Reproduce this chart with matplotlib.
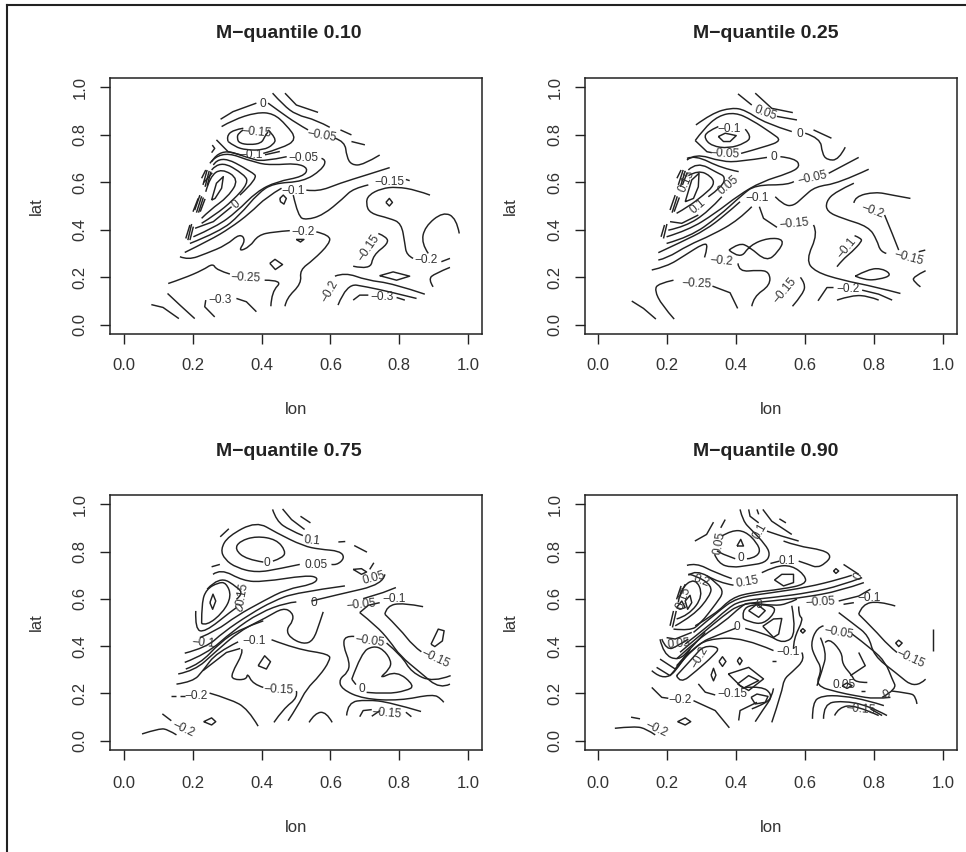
import matplotlib
matplotlib.use("Agg")
import matplotlib.pyplot as plt
from matplotlib.lines import Line2D
from matplotlib.path import Path
from matplotlib.patches import PathPatch

plt.rcParams['font.family'] = ['Liberation Sans', 'DejaVu Sans']

TITLES = ["M\u2212quantile 0.10", "M\u2212quantile 0.25", "M\u2212quantile 0.75", "M\u2212quantile 0.90"]
TICKS = [0.0, 0.2, 0.4, 0.6, 0.8, 1.0]
TICK_LABELS = ["0.0", "0.2", "0.4", "0.6", "0.8", "1.0"]

# ---- contour lines, as (lon, lat) vertices ----
Q10_LINES = [
 [(.468,.976),(.501,.926),(.564,.895)],
 [(.432,.976),(.463,.926),(.501,.884),(.559,.863),(.598,.832)],
 [(.281,.866),(.317,.898),(.385,.934)],
 [(.419,.934),(.453,.898),(.501,.849),(.535,.821)],
 [(.613,.786),(.642,.772),(.647,.708),(.661,.673),(.695,.673),(.743,.715)],
 [(.629,.821),(.661,.80)],
 [(.661,.772),(.70,.758)],
 [(.284,.835),(.317,.863),(.385,.895),(.434,.891),(.472,.842),(.503,.781),(.458,.743),(.405,.722)],
 [(.303,.772),(.298,.793),(.317,.821),(.347,.828)],
 [(.419,.821),(.443,.786),(.434,.758),(.405,.736),(.356,.736),(.322,.75),(.303,.772)],
 [(.347,.821),(.332,.807),(.329,.786),(.335,.765),(.366,.758),(.40,.765),(.409,.793),(.419,.814)],
 [(.269,.779),(.303,.729),(.342,.715)],
 [(.257,.757),(.264,.743),(.255,.725)],
 [(.255,.525),(.269,.596),(.289,.624),(.284,.575),(.265,.532),(.255,.525)],
 [(.226,.448),(.25,.483),(.303,.539),(.335,.613),(.284,.659),(.25,.624),(.238,.56)],
 [(.226,.427),(.265,.462),(.318,.525),(.361,.596),(.352,.631),(.279,.694),(.255,.652)],
 [(.207,.406),(.26,.434),(.313,.497)],
 [(.337,.546),(.39,.617),(.371,.645),(.279,.716),(.26,.673)],
 [(.202,.37),(.269,.413),(.328,.476),(.386,.561),(.444,.603),(.521,.624),(.536,.659),(.502,.68),(.434,.673),(.386,.68),(.279,.737),(.25,.68)],
 [(.192,.342),(.279,.392),(.337,.462),(.39,.554),(.434,.596),(.521,.603),(.574,.652),(.589,.694),(.574,.701)],
 [(.473,.708),(.405,.687),(.366,.701),(.279,.744),(.255,.687)],
 [(.41,.716),(.453,.73)],
 [(.177,.304),(.25,.356),(.308,.406),(.366,.469),(.415,.539),(.458,.575)],
 [(.53,.567),(.564,.56),(.627,.596),(.705,.631),(.772,.662)],
 [(.163,.286),(.187,.272),(.24,.30),(.298,.335),(.337,.384),(.354,.356),(.332,.307),(.366,.328),(.39,.377),(.434,.391),(.482,.396)],
 [(.559,.391),(.598,.377),(.598,.342),(.55,.272),(.511,.23),(.516,.173),(.472,.11),(.468,.077)],
 [(.492,.546),(.506,.455),(.53,.441),(.579,.462),(.637,.532),(.666,.574),(.71,.589)],
 [(.819,.612),(.83,.607)],
 [(.889,.546),(.85,.567),(.792,.581),(.748,.574),(.71,.546),(.703,.511),(.714,.469),(.772,.448),(.806,.427),(.816,.342),(.821,.293),(.84,.279)],
 [(.922,.265),(.947,.279)],
 [(.761,.515),(.771,.532),(.78,.515),(.771,.50),(.761,.515)],
 [(.974,.384),(.966,.448),(.927,.476),(.874,.413),(.864,.342),(.884,.30)],
 [(.947,.241),(.903,.215),(.884,.191),(.898,.159)],
 [(.743,.206),(.782,.222),(.83,.204),(.792,.187),(.743,.206)],
 [(.613,.204),(.642,.22),(.705,.187),(.782,.173),(.874,.128)],
 [(.622,.082),(.647,.173),(.705,.159),(.772,.138),(.85,.11)],
 [(.666,.103),(.685,.124),(.71,.124)],
 [(.792,.114),(.816,.103)],
 [(.739,.384),(.763,.37),(.768,.342),(.724,.293),(.716,.23),(.666,.246)],
 [(.129,.173),(.172,.194),(.23,.23),(.259,.258),(.269,.23),(.308,.213)],
 [(.409,.187),(.463,.187),(.429,.138),(.427,.077)],
 [(.08,.084),(.114,.072),(.16,.025)],
 [(.127,.131),(.163,.082),(.206,.025)],
 [(.264,.032),(.235,.075),(.238,.103)],
 [(.327,.11),(.356,.096),(.385,.054)],
 [(.424,.258),(.439,.275),(.461,.253),(.44,.232),(.424,.258)],
 [(.501,.359),(.523,.359),(.513,.348),(.501,.359)],
 [(.453,.532),(.463,.546),(.472,.532),(.465,.508),(.455,.518),(.453,.532)],
 [(.23,.589),(.242,.652)], [(.236,.581),(.248,.648)], [(.242,.585),(.253,.645)], [(.226,.617),(.238,.652)], [(.233,.6),(.257,.64)],
 [(.206,.483),(.221,.546)], [(.211,.472),(.226,.541)], [(.217,.472),(.231,.536)], [(.201,.476),(.216,.532)], [(.222,.476),(.236,.53)],
 [(.18,.363),(.192,.42)], [(.186,.356),(.197,.424)], [(.192,.356),(.202,.413)],
]
Q10_LABEL_TEXT = ["0","\u22120.15","\u22120.05","\u22120.1","\u22120.05","\u22120.1","\u22120.15","0","\u22120.2","\u22120.15","\u22120.2","\u22120.25","\u22120.2","\u22120.3","\u22120.3"]
Q10_LABEL_LON = [.405,.385,.574,.371,.521,.492,.772,.325,.521,.71,.879,.354,.598,.281,.751]
Q10_LABEL_LAT = [.929,.81,.796,.715,.701,.565,.603,.504,.391,.321,.272,.199,.138,.103,.117]
Q10_LABEL_ROT = [0,-5,-10,0,0,0,0,40,0,55,0,-3,60,0,0]

Q25_LINES = [
 [(.455,.976),(.503,.912),(.564,.894)],
 [(.405,.973),(.445,.926)],
 [(.518,.878),(.576,.863)],
 [(.283,.842),(.329,.891),(.387,.915),(.426,.905),(.484,.849),(.561,.814)],
 [(.624,.821),(.676,.786)],
 [(.60,.807),(.644,.786),(.649,.722),(.663,.694),(.697,.694),(.716,.748)],
 [(.281,.776),(.305,.824),(.348,.881),(.397,.895),(.445,.863),(.503,.807),(.532,.776),(.484,.75),(.414,.722)],
 [(.281,.776),(.315,.729),(.329,.725)],
 [(.348,.835),(.315,.814),(.307,.786),(.329,.753),(.378,.743),(.426,.765),(.445,.793),(.426,.824)],
 [(.348,.793),(.368,.807),(.40,.797),(.382,.772),(.363,.772),(.348,.793)],
 [(.252,.518),(.271,.61),(.292,.638),(.29,.581),(.276,.532),(.252,.518)],
 [(.227,.469),(.261,.497),(.305,.546),(.337,.589),(.329,.624),(.29,.652),(.261,.628)],
 [(.208,.434),(.242,.427),(.29,.462)],
 [(.319,.539),(.36,.582),(.368,.624),(.348,.638),(.286,.687),(.261,.652)],
 [(.203,.398),(.252,.413),(.319,.476),(.358,.539)],
 [(.407,.645),(.358,.659),(.281,.715),(.257,.701)],
 [(.198,.37),(.261,.398),(.339,.469),(.407,.546),(.474,.603),(.552,.638),(.586,.666),(.571,.701),(.528,.708)],
 [(.489,.705),(.411,.687),(.358,.687),(.281,.722),(.257,.694)],
 [(.198,.342),(.266,.37),(.348,.455),(.416,.546),(.455,.589),(.552,.589),(.567,.603)],
 [(.668,.638),(.755,.705)],
 [(.174,.303),(.242,.349),(.31,.398),(.368,.462),(.411,.518)],
 [(.174,.272),(.198,.279),(.261,.335),(.329,.377),(.407,.441),(.445,.497)],
 [(.155,.23),(.198,.244),(.252,.293),(.305,.342),(.319,.335),(.308,.283)],
 [(.467,.497),(.479,.448),(.518,.41)],
 [(.624,.42),(.637,.384),(.602,.272),(.629,.222),(.707,.187),(.803,.159),(.876,.131)],
 [(.513,.539),(.537,.504),(.566,.50),(.595,.539),(.629,.582),(.697,.596),(.784,.655)],
 [(.741,.513),(.744,.54),(.803,.56),(.852,.546),(.905,.532)],
 [(.741,.596),(.687,.56),(.66,.518),(.663,.476),(.707,.448),(.784,.413),(.808,.356),(.818,.307),(.835,.30)],
 [(.83,.462),(.852,.384),(.871,.314)],
 [(.929,.307),(.948,.314)],
 [(.692,.244),(.707,.272),(.736,.307),(.763,.349),(.763,.363),(.743,.375)],
 [(.949,.227),(.912,.201),(.915,.18),(.934,.159)],
 [(.745,.204),(.784,.234),(.823,.237),(.852,.208),(.813,.19),(.774,.187),(.745,.204)],
 [(.637,.10),(.663,.156),(.682,.156)],
 [(.765,.145),(.813,.128),(.852,.103)],
 [(.692,.103),(.736,.124),(.784,.12),(.813,.103)],
 [(.563,.077),(.595,.131),(.60,.173),(.586,.199)],
 [(.445,.077),(.45,.117),(.499,.166),(.496,.222),(.465,.23),(.407,.222),(.405,.258)],
 [(.379,.314),(.408,.345),(.438,.328),(.488,.265),(.522,.307),(.54,.359),(.493,.366),(.44,.335),(.411,.275),(.379,.314)],
 [(.097,.099),(.131,.068),(.167,.023)],
 [(.22,.023),(.184,.082),(.163,.145),(.174,.173),(.218,.187)],
 [(.331,.162),(.382,.134),(.404,.068)],
 [(.232,.589),(.246,.652)], [(.238,.581),(.252,.648)], [(.244,.589),(.258,.642)], [(.228,.617),(.24,.652)],
 [(.208,.483),(.223,.546)], [(.214,.472),(.229,.541)], [(.22,.476),(.235,.536)],
 [(.182,.37),(.192,.42)], [(.189,.363),(.199,.424)],
]
Q25_LABEL_TEXT = ["0.05","0","\u22120.1","\u22120.05","0","\u22120.05","\u22120.1","\u22120.15","\u22120.2","\u22120.1","\u22120.15","\u22120.2","\u22120.25","\u22120.15","\u22120.2","0.05","0.1","0.15"]
Q25_LABEL_LON = [.484,.584,.378,.365,.508,.62,.46,.569,.794,.721,.90,.358,.286,.54,.723,.378,.288,.256]
Q25_LABEL_LAT = [.891,.804,.824,.722,.705,.617,.532,.424,.48,.321,.279,.268,.173,.145,.149,.589,.50,.603]
Q25_LABEL_ROT = [-20,0,0,-3,0,12,0,5,-20,50,-15,-5,-3,50,0,40,40,65]

Q75_LINES = [
 [(.432,.979),(.443,.93),(.482,.891),(.52,.868)],
 [(.461,.981),(.487,.936),(.525,.894)],
 [(.513,.95),(.542,.922)],
 [(.623,.841),(.643,.843)],
 [(.669,.826),(.706,.798)],
 [(.28,.863),(.305,.897)],
 [(.405,.756),(.356,.767),(.322,.81),(.337,.845),(.385,.866),(.443,.852),(.47,.803),(.462,.774),(.433,.76)],
 [(.511,.746),(.453,.728),(.385,.711),(.327,.732),(.293,.767),(.281,.81),(.303,.866),(.385,.929),(.443,.88),(.521,.824),(.569,.81),(.627,.803),(.642,.774),(.618,.742),(.603,.746)],
 [(.25,.584),(.259,.62),(.267,.591),(.258,.556),(.25,.584)],
 [(.226,.496),(.24,.486),(.288,.542),(.313,.612),(.297,.669),(.274,.669),(.24,.641),(.226,.584),(.226,.496)],
 [(.209,.549),(.207,.472),(.235,.458),(.313,.549),(.327,.563)],
 [(.242,.641),(.277,.697),(.332,.648),(.345,.62),(.327,.598)],
 [(.259,.704),(.281,.728),(.347,.676),(.405,.672),(.53,.70),(.566,.69),(.55,.662),(.472,.641),(.405,.591),(.327,.528),(.269,.465),(.221,.436)],
 [(.255,.736),(.279,.746)],
 [(.177,.37),(.24,.394),(.288,.458),(.366,.535),(.434,.591),(.501,.627),(.642,.655)],
 [(.177,.331),(.24,.366),(.317,.465),(.395,.542),(.472,.584),(.501,.587)],
 [(.545,.591),(.627,.62),(.753,.662),(.758,.704)],
 [(.158,.282),(.206,.296),(.264,.373),(.337,.465),(.414,.521),(.463,.563),(.49,.542),(.492,.507),(.472,.472),(.482,.436),(.521,.408),(.55,.422),(.569,.50),(.579,.545)],
 [(.18,.303),(.221,.324),(.279,.415),(.337,.472),(.405,.507)],
 [(.153,.239),(.201,.249),(.23,.296),(.269,.373),(.332,.418)],
 [(.429,.427),(.501,.387),(.598,.366),(.598,.338),(.569,.275),(.53,.218),(.506,.148),(.477,.084)],
 [(.342,.387),(.347,.373),(.312,.282),(.317,.258),(.356,.258),(.359,.286),(.375,.239),(.405,.225)],
 [(.501,.21),(.506,.183),(.463,.134),(.436,.077)],
 [(.23,.296),(.298,.373),(.338,.39)],
 [(.695,.601),(.753,.627),(.79,.648)],
 [(.685,.542),(.71,.573),(.743,.584)],
 [(.758,.535),(.763,.57),(.811,.584),(.869,.567)],
 [(.758,.535),(.802,.472),(.84,.401),(.864,.376)],
 [(.685,.542),(.733,.486),(.772,.422),(.802,.359),(.86,.289),(.918,.218),(.947,.239)],
 [(.669,.441),(.642,.444),(.637,.401),(.656,.331),(.651,.289),(.625,.26),(.632,.218),(.695,.176),(.802,.169),(.898,.197),(.922,.176),(.929,.162)],
 [(.763,.413),(.807,.359),(.835,.289),(.898,.246),(.949,.275)],
 [(.662,.26),(.69,.373),(.724,.401),(.753,.387),(.777,.338),(.772,.303),(.739,.26),(.792,.296),(.845,.232),(.821,.211),(.763,.197),(.705,.204)],
 [(.662,.26),(.674,.237)],
 [(.647,.106),(.65,.162),(.705,.173),(.773,.162),(.863,.123)],
 [(.685,.101),(.695,.127),(.72,.131)],
 [(.819,.12),(.835,.101)],
 [(.538,.077),(.555,.117),(.588,.122),(.605,.077)],
 [(.72,.103),(.744,.127)],
 [(.249,.201),(.308,.176),(.361,.134),(.39,.061)],
 [(.136,.19),(.151,.19)], [(.162,.19),(.177,.19)],
 [(.053,.028),(.104,.052),(.129,.046),(.153,.024)],
 [(.112,.113),(.138,.084)],
 [(.232,.08),(.255,.096),(.267,.08),(.255,.066),(.232,.08)],
 [(.39,.317),(.409,.359),(.426,.334),(.414,.303),(.39,.317)],
 [(.892,.408),(.913,.472),(.93,.465),(.925,.422),(.903,.398),(.892,.408)],
 [(.666,.725),(.69,.728),(.705,.714),(.69,.704),(.666,.725)],
 [(.714,.725),(.726,.753)],
]
Q75_LABEL_TEXT = ["0.1","0","0.05","0.05","0.15","0","0","\u22120.05","\u22120.1","\u22120.1","\u22120.1","\u22120.05","\u22120.15","\u22120.15","0","\u22120.15","\u22120.2","\u22120.2"]
Q75_LABEL_LON = [.547,.414,.559,.726,.344,.337,.553,.69,.786,.23,.378,.714,.903,.448,.69,.763,.211,.172]
Q75_LABEL_LAT = [.847,.75,.742,.686,.62,.559,.581,.577,.598,.415,.422,.422,.345,.214,.218,.117,.19,.049]
Q75_LABEL_ROT = [-5,0,0,15,80,40,0,5,0,-5,0,-8,-25,-3,0,-5,0,-25]

Q90_LINES = [
 [(.28,.845),(.314,.873),(.334,.925)],
 [(.355,.901),(.368,.936)],
 [(.411,.979),(.419,.93),(.445,.891),(.484,.831),(.499,.789),(.484,.753),(.436,.742),(.387,.732),(.348,.75),(.337,.789)],
 [(.358,.866),(.387,.891),(.426,.887),(.46,.838),(.471,.796),(.445,.77),(.431,.77)],
 [(.397,.77),(.363,.789),(.344,.803)],
 [(.402,.824),(.413,.852),(.421,.824),(.402,.824)],
 [(.436,.979),(.44,.95),(.465,.922)],
 [(.489,.887),(.532,.866),(.581,.845)],
 [(.46,.979),(.465,.958)],
 [(.477,.979),(.503,.929),(.561,.873)],
 [(.525,.939),(.544,.922)],
 [(.537,.845),(.576,.824),(.653,.807),(.676,.781),(.658,.75),(.634,.732),(.61,.746),(.581,.76)],
 [(.257,.742),(.283,.753),(.339,.711),(.387,.686)],
 [(.474,.711),(.513,.739),(.561,.742),(.60,.699),(.602,.662),(.532,.641),(.445,.627),(.387,.605),(.339,.535),(.281,.486)],
 [(.511,.68),(.532,.704),(.566,.704),(.566,.669),(.537,.655),(.511,.68)],
 [(.261,.70),(.283,.725),(.349,.669),(.392,.658)],
 [(.252,.591),(.266,.615),(.271,.584),(.259,.556),(.252,.591)],
 [(.227,.563),(.242,.591),(.252,.563),(.237,.556),(.227,.563)],
 [(.227,.515),(.261,.529),(.305,.613),(.281,.691),(.237,.641),(.232,.585)],
 [(.223,.486),(.276,.529),(.324,.613),(.329,.656),(.285,.698),(.261,.705)],
 [(.218,.472),(.266,.465),(.295,.493),(.344,.585),(.363,.627),(.348,.663),(.315,.698)],
 [(.218,.549),(.208,.486)], [(.226,.549),(.215,.479)], [(.24,.655),(.227,.598)], [(.252,.662),(.237,.612)],
 [(.276,.458),(.344,.543),(.402,.606),(.498,.625),(.605,.649),(.702,.684),(.735,.70)],
 [(.252,.409),(.315,.479),(.373,.557),(.411,.592),(.508,.606),(.615,.627),(.702,.656),(.765,.69)],
 [(.237,.374),(.305,.458),(.363,.529),(.411,.578),(.508,.592),(.595,.606),(.702,.634),(.77,.669)],
 [(.227,.346),(.295,.437),(.363,.5),(.416,.571),(.436,.585),(.508,.571),(.547,.578),(.576,.599)],
 [(.697,.591),(.755,.612),(.789,.641)],
 [(.436,.55),(.46,.578),(.484,.55),(.465,.522),(.436,.55)],
 [(.421,.515),(.416,.55),(.445,.578),(.508,.571),(.513,.543),(.479,.493),(.44,.501),(.421,.515)],
 [(.477,.484),(.508,.515),(.532,.517),(.523,.451),(.508,.437),(.477,.484)],
 [(.426,.475),(.489,.451),(.537,.409),(.576,.451),(.561,.571)],
 [(.227,.317),(.285,.409),(.353,.451),(.397,.475)],
 [(.237,.331),(.276,.388),(.315,.43),(.421,.437),(.508,.381)],
 [(.59,.373),(.6,.345),(.561,.289),(.538,.26),(.532,.204),(.503,.077)],
 [(.455,.08),(.479,.134),(.503,.183),(.508,.221)],
 [(.407,.085),(.411,.127),(.46,.162)],
 [(.155,.225),(.184,.183),(.203,.179)],
 [(.276,.169),(.339,.127),(.38,.054)],
 [(.048,.052),(.106,.061),(.14,.049),(.165,.024)],
 [(.095,.099),(.121,.092)],
 [(.23,.08),(.252,.096),(.268,.08),(.252,.066),(.23,.08)],
 [(.227,.275),(.276,.353),(.305,.402),(.353,.395),(.334,.36),(.285,.296),(.237,.24),(.227,.275)],
 [(.184,.43),(.198,.381),(.232,.402),(.261,.43)],
 [(.179,.429),(.189,.366),(.232,.338),(.266,.387),(.31,.458)],
 [(.198,.436),(.223,.43),(.271,.458)],
 [(.169,.31),(.208,.275),(.261,.366)],
 [(.155,.296),(.194,.246),(.247,.338),(.266,.387)],
 [(.179,.345),(.223,.303),(.266,.387)],
 [(.29,.24),(.31,.205),(.339,.193)],
 [(.35,.335),(.36,.355),(.37,.335),(.36,.314),(.35,.335)],
 [(.403,.338),(.41,.352),(.417,.338),(.41,.321),(.403,.338)],
 [(.327,.277),(.334,.306),(.341,.277),(.334,.253),(.327,.277)],
 [(.377,.282),(.436,.31),(.479,.261),(.436,.212),(.411,.233),(.377,.282)],
 [(.404,.24),(.436,.275),(.465,.254),(.421,.222),(.404,.24)],
 [(.443,.183),(.46,.197),(.492,.187),(.484,.162),(.455,.155),(.443,.183)],
 [(.426,.225),(.474,.23),(.503,.197),(.494,.162),(.445,.134)],
 [(.586,.465),(.593,.474),(.6,.465),(.593,.455),(.586,.465)],
 [(.503,.335),(.515,.335)],
 [(.581,.568),(.581,.529),(.595,.515),(.566,.43),(.566,.388)],
 [(.755,.535),(.765,.577),(.813,.591),(.861,.57)],
 [(.755,.535),(.799,.472),(.842,.401),(.866,.373)],
 [(.697,.542),(.741,.493),(.784,.444),(.799,.359),(.861,.289),(.92,.218),(.949,.26)],
 [(.711,.577),(.741,.584)],
 [(.971,.472),(.971,.38)],
 [(.862,.413),(.871,.425),(.881,.413),(.871,.398),(.862,.413)],
 [(.653,.486),(.634,.479),(.615,.408),(.629,.352),(.649,.303),(.629,.232),(.697,.204),(.745,.19),(.803,.176),(.847,.183)],
 [(.644,.436),(.663,.373),(.649,.296),(.634,.232)],
 [(.658,.415),(.668,.436),(.707,.373),(.707,.324),(.736,.275),(.745,.246),(.78,.246)],
 [(.736,.451),(.794,.387),(.833,.331),(.852,.26),(.866,.218),(.823,.183)],
 [(.755,.373),(.774,.317),(.731,.275)],
 [(.707,.232),(.721,.244),(.736,.232),(.721,.221),(.707,.232)],
 [(.763,.208),(.772,.208)],
 [(.85,.21),(.90,.201),(.92,.19),(.924,.155)],
 [(.621,.092),(.621,.162),(.648,.19),(.707,.19),(.784,.169),(.828,.148)],
 [(.653,.092),(.653,.155),(.707,.169),(.784,.148),(.837,.106)],
 [(.685,.106),(.697,.141),(.745,.151),(.813,.106)],
 [(.789,.134),(.823,.106)],
 [(.711,.746),(.755,.704)],
 [(.682,.718),(.689,.728),(.697,.718),(.689,.708),(.682,.718)],
 [(.499,.75),(.525,.76)],
]
Q90_LABEL_TEXT = ["0.05","0.1","0","0.1","0.15","0","0.2","0.15","0","\u22120.05","\u22120.1","0","\u22120.05","0.05","\u22120.1","\u22120.15","\u22120.2","\u22120.15","0.05","0","\u22120.2","\u22120.15","\u22120.2"]
Q90_LABEL_LON = [.353,.469,.413,.547,.433,.755,.30,.247,.465,.644,.784,.403,.697,.232,.55,.905,.295,.389,.714,.837,.237,.76,.169]
Q90_LABEL_LAT = [.838,.887,.772,.76,.673,.694,.676,.605,.573,.584,.605,.479,.457,.408,.373,.345,.352,.197,.237,.193,.173,.134,.046]
Q90_LABEL_ROT = [80,60,0,0,10,60,-20,70,0,3,0,0,-10,5,0,-25,60,0,0,30,0,-5,-25]

PANELS = [
 (Q10_LINES, Q10_LABEL_TEXT, Q10_LABEL_LON, Q10_LABEL_LAT, Q10_LABEL_ROT),
 (Q25_LINES, Q25_LABEL_TEXT, Q25_LABEL_LON, Q25_LABEL_LAT, Q25_LABEL_ROT),
 (Q75_LINES, Q75_LABEL_TEXT, Q75_LABEL_LON, Q75_LABEL_LAT, Q75_LABEL_ROT),
 (Q90_LINES, Q90_LABEL_TEXT, Q90_LABEL_LON, Q90_LABEL_LAT, Q90_LABEL_ROT),
]

W, H = 966, 852
INK = "#222222"
fig = plt.figure(figsize=(W / 100, H / 100), dpi=100, facecolor="white")

# left, right, top, bottom in pixels
BOXES = [(110, 482, 78, 334), (584.5, 957, 78, 334), (110, 482, 495, 750), (584.5, 957, 495, 750)]
TITLE_X = [289, 766, 289, 766]
TITLE_Y = [33, 33, 452, 452]
XLAB_Y = [409, 409, 827, 827]
XPAD = [10, 10, 11.5, 11.5]


def contour_path(pts):
    """Rounded path through the vertices; small loops and short pieces stay straight."""
    closed = pts[0] == pts[-1]
    if len(pts) < 4 or (closed and len(pts) < 7):
        return Path(pts)
    verts, codes = [pts[0]], [Path.MOVETO]
    for a, b in zip(pts[1:-1], pts[2:]):
        end = b if b == pts[-1] else ((a[0] + b[0]) / 2, (a[1] + b[1]) / 2)
        verts += [a, end]
        codes += [Path.CURVE3, Path.CURVE3]
    return Path(verts, codes)


for i, (box, title, (lines, txt, lons, lats, rots)) in enumerate(zip(BOXES, TITLES, PANELS)):
    l, r, t, b = box
    ax = fig.add_axes([l / W, 1 - b / H, (r - l) / W, (b - t) / H])
    for line in lines:
        ax.add_patch(PathPatch(contour_path(line), fill=False, edgecolor=INK, lw=1.05,
                               joinstyle="round", capstyle="butt"))
    for s, x, y, rot in zip(txt, lons, lats, rots):
        ax.text(x, y, s, fontsize=8.6, color="#333333", ha="center", va="center",
                rotation=rot, rotation_mode="anchor")
    ax.set_xlim(-0.04, 1.04)
    ax.set_ylim(-0.04, 1.04)
    ax.set_xticks(TICKS, TICK_LABELS)
    ax.set_yticks(TICKS, TICK_LABELS)
    ax.tick_params(axis="both", length=7.5, width=1.0, color=INK, labelcolor="#333333", labelsize=12)
    ax.tick_params(axis="x", pad=XPAD[i])
    ax.tick_params(axis="y", pad=8.5)
    for lab in ax.get_yticklabels():
        lab.set_rotation(90)
        lab.set_va("center")
    for sp in ax.spines.values():
        sp.set_linewidth(1.1)
        sp.set_color(INK)
    fig.text(TITLE_X[i] / W, 1 - TITLE_Y[i] / H, title, fontsize=14, fontweight="bold", color="#222222",
             ha="center", va="center")
    fig.text((l + r) / 2 / W, 1 - XLAB_Y[i] / H, "lon", fontsize=12, color="#333333", ha="center", va="center")
    fig.text((l - 74) / W, 1 - (t + b) / 2 / H, "lat", fontsize=12, color="#333333",
             ha="center", va="center", rotation=90)

# page frame visible at the top and left edge of the source
fig.add_artist(Line2D([7 / W, 1], [1 - 5 / H, 1 - 5 / H], color="#222222", lw=1.5))
fig.add_artist(Line2D([7 / W, 7 / W], [0, 1 - 5 / H], color="#222222", lw=1.5))

fig.savefig("out.png", dpi=100)
